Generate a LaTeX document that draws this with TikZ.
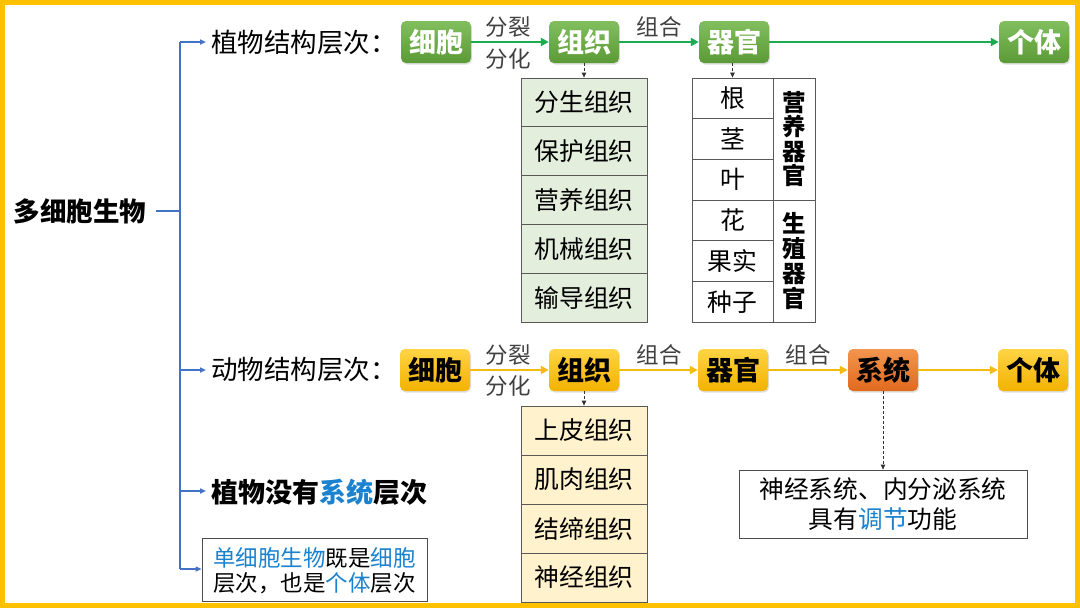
\documentclass[tikz,border=0pt]{standalone}
\usepackage{fontspec}
\setmainfont{Noto Sans CJK SC}
\usetikzlibrary{arrows.meta,shadows}
\definecolor{frameY}{HTML}{FFC000}
\definecolor{treeB}{HTML}{4472C4}
\definecolor{gTop}{HTML}{82BE5E}
\definecolor{gBot}{HTML}{5A9A36}
\definecolor{gLine}{HTML}{1DAA50}
\definecolor{yTop}{HTML}{FFD445}
\definecolor{yBot}{HTML}{F2B200}
\definecolor{yLine}{HTML}{F7BA10}
\definecolor{oTop}{HTML}{F3954E}
\definecolor{oBot}{HTML}{E06A1E}
\definecolor{tGreen}{HTML}{E4EEDC}
\definecolor{tYel}{HTML}{FFF2CC}
\definecolor{hiB}{HTML}{1B82CF}
\newcommand\myfs[1]{\fontsize{#1}{#1}\selectfont}
\begin{document}
\begin{tikzpicture}[x=1pt,y=-1pt,
  boxbase/.style={rounded corners=5pt, minimum width=70pt, minimum height=42pt, inner sep=0pt,
    font=\myfs{27}\bfseries, drop shadow={opacity=0.25, shadow xshift=1pt, shadow yshift=-1.5pt}},
  gbox/.style={boxbase, top color=gTop, bottom color=gBot, text=white},
  ybox/.style={boxbase, top color=yTop, bottom color=yBot, text=black},
  obox/.style={boxbase, top color=oTop, bottom color=oBot, text=black},
  lbl/.style={font=\myfs{26.5}, anchor=west, inner sep=0pt},
  edgel/.style={font=\myfs{22.5}, text=black!75, inner sep=0pt},
  garr/.style={draw=gLine, line width=2.4pt, -{Triangle[length=8pt,width=8pt]}},
  yarr/.style={draw=yLine, line width=2.4pt, -{Triangle[length=8pt,width=8pt]}},
  darr/.style={densely dashed, line width=0.8pt, draw=black!80, -{Triangle[length=5pt,width=4.5pt]}},
  barr/.style={draw=treeB, line width=1.6pt, -{Triangle[length=6pt,width=5pt]}},
  cellbase/.style={draw=black!65, line width=0.8pt, inner sep=0pt, font=\myfs{24.8}},
  cellg/.style={cellbase, fill=tGreen, minimum width=126pt, minimum height=48.8pt},
  celly/.style={cellbase, fill=tYel, minimum width=126pt, minimum height=49pt},
  cello/.style={cellbase, fill=white, minimum width=81pt, minimum height=40.67pt},
  cellv/.style={cellbase, fill=white, minimum width=42pt, minimum height=122pt, font=\fontsize{23.5}{24.5}\selectfont\bfseries, align=center},
  plainbox/.style={draw=black!70, line width=0.8pt, fill=white, inner sep=0pt, align=center}
]
\useasboundingbox (0,0) rectangle (1080,608);
\fill[white] (0,0) rectangle (1080,608);
\draw[frameY, line width=5pt] (2.5,2.5) rectangle (1077.5,605.5);

% root and tree
\node[font=\myfs{26.5}\bfseries, inner sep=0pt] (root) at (80,211) {多细胞生物};
\coordinate (jr) at (180,211);
\coordinate (j1) at (180,42);
\coordinate (j2) at (180,370);
\coordinate (j3) at (180,491);
\coordinate (j4) at (180,569);
\draw[treeB, line width=1.6pt] ([xshift=10pt]root.east) -- (jr);
\draw[treeB, line width=1.6pt] (j1) -- (j4);

\node[lbl] (plbl) at (211,42) {植物结构层次：};
\node[lbl] (albl) at (211,370) {动物结构层次：};
\node[lbl, font=\myfs{27}\bfseries] (nosys) at (211,492) {植物没有\textcolor{hiB}{系统}层次};
\node[plainbox, minimum width=225pt, minimum height=63pt, font=\myfs{22.5}, text depth=0pt] (single) at (314.5,569.5)
  {\textcolor{hiB}{单细胞生物}既是\textcolor{hiB}{细胞}\\[2pt]层次，也是\textcolor{hiB}{个体}层次};

\draw[barr] (j1) -- ([xshift=-5pt]plbl.west);
\draw[barr] (j2) -- ([xshift=-5pt]albl.west);
\draw[barr] (j3) -- ([xshift=-5pt]nosys.west |- j3);
\draw[barr] (j4) -- (single.west |- j4);

% plant chain
\node[gbox] (pc) at (436,42) {细胞};
\node[gbox] (pz) at (584,42) {组织};
\node[gbox] (pq) at (734,42) {器官};
\node[gbox] (pg) at (1034,42) {个体};
\draw[garr] (pc) -- (pz);
\draw[garr] (pz) -- (pq);
\draw[garr] (pq) -- (pg);
\node[edgel] (pl1) at (508,27) {分裂};
\node[edgel] (pl2) at (508,59) {分化};
\node[edgel] (pl3) at (659,27) {组合};

% plant tissue table
\node[cellg] (t1) at (584,102.4) {分生组织};
\node[cellg] (t2) at (584,151.2) {保护组织};
\node[cellg] (t3) at (584,200.0) {营养组织};
\node[cellg] (t4) at (584,248.8) {机械组织};
\node[cellg] (t5) at (584,297.6) {输导组织};
\draw[darr] (pz.south) -- (t1.north);

% organ table
\node[cello] (o1) at (732.5,98.3) {根};
\node[cello] (o2) at (732.5,139.0) {茎};
\node[cello] (o3) at (732.5,179.7) {叶};
\node[cello] (o4) at (732.5,220.3) {花};
\node[cello] (o5) at (732.5,261.0) {果实};
\node[cello] (o6) at (732.5,301.7) {种子};
\node[cellv] (v1) at (794,139) {营\\养\\器\\官};
\node[cellv] (v2) at (794,261) {生\\[0.5pt]殖\\[0.5pt]器\\[0.5pt]官};
\draw[darr] (o1.north |- pq.south) -- (o1.north);

% animal chain
\node[ybox] (ac) at (435,370) {细胞};
\node[ybox] (az) at (584,370) {组织};
\node[ybox] (aq) at (733,370) {器官};
\node[obox] (as) at (883,370) {系统};
\node[ybox] (ag) at (1033,370) {个体};
\draw[yarr] (ac) -- (az);
\draw[yarr] (az) -- (aq);
\draw[yarr] (aq) -- (as);
\draw[yarr] (as) -- (ag);
\node[edgel] (al1) at (508,355) {分裂};
\node[edgel] (al2) at (508,386) {分化};
\node[edgel] (al3) at (659,355) {组合};
\node[edgel] (al4) at (808,355) {组合};

% animal tissue table
\node[celly] (u1) at (584,430.5) {上皮组织};
\node[celly] (u2) at (584,479.5) {肌肉组织};
\node[celly] (u3) at (584,528.5) {结缔组织};
\node[celly] (u4) at (584,577.5) {神经组织};
\draw[darr] (az.south) -- (u1.north);

% system note
\node[plainbox, minimum width=288pt, minimum height=68pt, font=\myfs{24.7}] (note) at (883,504)
  {神经系统、内分泌系统\\[5pt]具有\textcolor{hiB}{调节}功能};
\draw[darr] (as.south) -- (note.north);
\end{tikzpicture}
\end{document}
